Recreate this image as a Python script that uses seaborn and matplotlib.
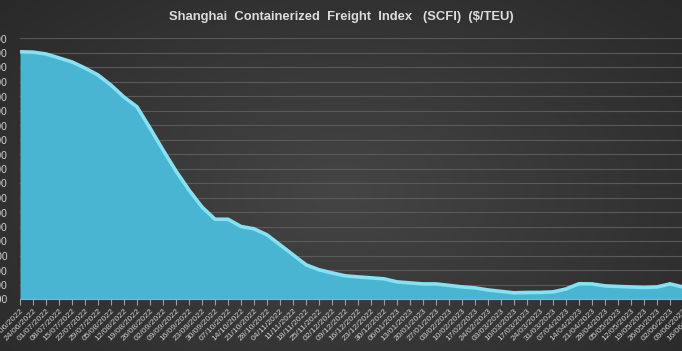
import numpy as np
import pandas as pd
import matplotlib
matplotlib.use("Agg")
import matplotlib.pyplot as plt
import seaborn as sns

dates = ["17/06/2022", "24/06/2022", "01/07/2022", "08/07/2022", "15/07/2022", "22/07/2022",
         "29/07/2022", "05/08/2022", "12/08/2022", "19/08/2022", "26/08/2022", "02/09/2022",
         "09/09/2022", "16/09/2022", "23/09/2022", "30/09/2022", "07/10/2022", "14/10/2022",
         "21/10/2022", "28/10/2022", "04/11/2022", "11/11/2022", "18/11/2022", "25/11/2022",
         "02/12/2022", "09/12/2022", "16/12/2022", "23/12/2022", "30/12/2022", "06/01/2023",
         "13/01/2023", "20/01/2023", "27/01/2023", "03/02/2023", "10/02/2023", "17/02/2023",
         "24/02/2023", "03/03/2023", "10/03/2023", "17/03/2023", "24/03/2023", "31/03/2023",
         "07/04/2023", "14/04/2023", "21/04/2023", "28/04/2023", "05/05/2023", "12/05/2023",
         "19/05/2023", "26/05/2023", "02/06/2023", "09/06/2023", "16/06/2023"]
scfi = [4210, 4205, 4180, 4125, 4070, 3985, 3890, 3750, 3585, 3450, 3158, 2855,
        2565, 2303, 2069, 1900, 1900, 1800, 1768, 1685, 1548, 1410, 1272, 1203,
        1160, 1120, 1105, 1092, 1078, 1036, 1022, 1008, 1008, 988, 967, 953,
        925, 905, 885, 890, 891, 898, 938, 1010, 1008, 981, 973, 966,
        960, 966, 1008, 966, 938]
y_ticks = list(range(800, 4401, 200))

df = pd.DataFrame({"idx": np.arange(len(dates)), "date": dates, "scfi": scfi})

W, H = 682, 351
fig = plt.figure(figsize=(W / 100, H / 100), dpi=100)

# background gradient
bg = fig.add_axes([0, 0, 1, 1], zorder=-10)
yy, xx = np.mgrid[0:1:200j, 0:1:400j]
r = np.sqrt(((xx - 0.5) / 0.75) ** 2 + ((yy - 0.55) / 0.9) ** 2)
g = np.clip(0.27 - 0.12 * r, 0.13, 0.27)
img = np.dstack([g, g, g])
bg.imshow(img, aspect="auto", extent=[0, 1, 0, 1])
bg.set_axis_off()

left = 20 / W
right_px = 696
bottom = (H - 299) / H
height = 261 / H
ax = fig.add_axes([left, bottom, (right_px - 20) / W, height])
ax.set_facecolor("none")

fill_c = "#4ab5d2"
line_c = "#84e2f2"
ax.fill_between(df["idx"], df["scfi"], 800, color=fill_c, zorder=2, linewidth=0)
sns.lineplot(data=df, x="idx", y="scfi", ax=ax, color=line_c, linewidth=2.6, zorder=3)

ax.set_xlim(0, len(dates) - 1)
ax.set_ylim(800, 4400)
ax.set_yticks(y_ticks)
ax.set_yticklabels([f"{v:,}" for v in y_ticks])
ax.set_xticks(df["idx"])
ax.set_xticklabels(dates, rotation=45, ha="right", rotation_mode="anchor")

for t in ax.get_xticklabels():
    t.set_fontfamily("Liberation Sans")
    t.set_fontsize(6.1)
    t.set_color("#d0d0d0")
for t in ax.get_yticklabels():
    t.set_fontfamily("Liberation Sans")
    t.set_fontsize(7.4)
    t.set_color("#d0d0d0")

ax.tick_params(axis="x", length=4, width=0.8, color="#a0a0a0", pad=2)
ax.tick_params(axis="y", length=0, pad=9)
ax.grid(axis="y", color="#5a5a5a", linewidth=0.8, zorder=0)
ax.grid(axis="x", visible=False)
ax.set_axisbelow(True)
for s in ["top", "right", "left"]:
    ax.spines[s].set_visible(False)
ax.spines["bottom"].set_color("#a8a8a8")
ax.spines["bottom"].set_linewidth(0.8)
ax.spines["bottom"].set_zorder(4)
ax.set_xlabel("")
ax.set_ylabel("")

fig.text(0.5, 1 - 17 / H, "Shanghai  Containerized  Freight  Index   (SCFI)  ($/TEU)",
         ha="center", va="center", fontsize=9.4, fontweight="bold",
         color="#dcdcdc", family="Liberation Sans")

fig.savefig("out.png", dpi=100)
